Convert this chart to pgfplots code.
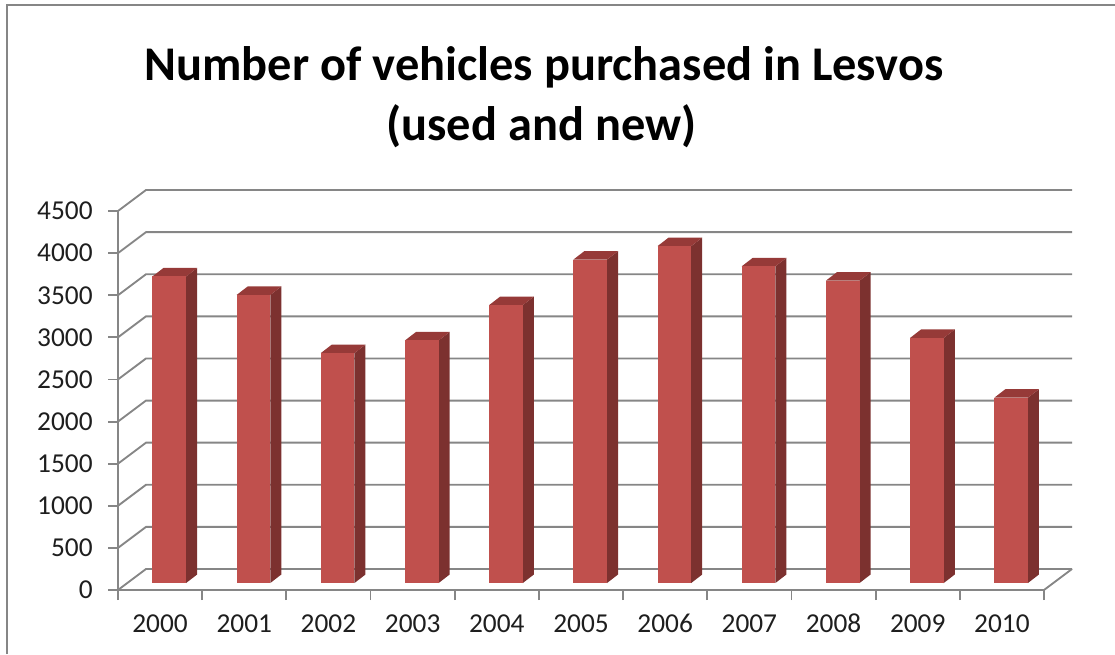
\documentclass[border=0pt]{standalone}
\usepackage{pgfplots}
\usepackage{pgfplotstable}
\pgfplotsset{compat=1.18}
\usepackage{fontspec}
\setmainfont{Carlito}

\definecolor{barfront}{RGB}{192,80,77}
\definecolor{barside}{RGB}{124,49,47}
\definecolor{bartop}{RGB}{150,58,56}
\definecolor{gridc}{RGB}{134,134,134}
\definecolor{labc}{RGB}{30,30,30}

% vehicles purchased per year
\pgfplotstableread{
year n
2000 3640
2001 3420
2002 2730
2003 2880
2004 3300
2005 3840
2006 4000
2007 3760
2008 3590
2009 2910
2010 2200
}\datatable

\begin{document}
\begin{tikzpicture}
\useasboundingbox (0,0) rectangle (836.25pt,-490.5pt);
% outer chart frame (cropped at right and bottom)
\draw[gridc, line width=1.5pt] (5.25pt,-490.5pt) -- (5.25pt,-3.75pt) -- (836.25pt,-3.75pt);

\node[font=\fontsize{36.3}{44}\selectfont\bfseries, anchor=base] at (408pt,-60pt)
  {Number of vehicles purchased in Lesvos};
\node[font=\fontsize{36.3}{44}\selectfont\bfseries, anchor=base] at (406pt,-105.5pt)
  {(used and new)};

\begin{axis}[
    at={(88.5pt,-442.5pt)}, anchor=south west,
    scale only axis,
    width=694.5pt, height=284.25pt,
    xmin=-0.5, xmax=10.5,
    ymin=0, ymax=4500,
    clip=false,
    axis x line*=bottom, axis y line*=left,
    axis line style={gridc, line width=1.4pt},
    xtick={-0.5,0.5,...,10.5},
    x tick label as interval,
    xticklabels={2000,2001,2002,2003,2004,2005,2006,2007,2008,2009,2010},
    ytick={0,500,...,4500},
    tick align=outside,
    major tick length=7.5pt,
    tick style={gridc, line width=1.4pt},
    /pgf/number format/assume math mode=true,
    /pgf/number format/set thousands separator={},
    tick label style={font=\fontsize{20.5}{24}\selectfont, text=labc},
    xticklabel style={text height=14pt, text depth=0pt, yshift=-7pt},
    yticklabel style={xshift=-8pt},
]
% 3D walls: side wall diagonals and back wall gridlines
\pgfplotsinvokeforeach{0,500,...,4500}{
  \draw[gridc, line width=1.4pt] (axis cs:-0.5,#1) -- (axis cs:-0.1674,#1+249.3)
      -- (axis cs:10.8326,#1+249.3);
}
\draw[gridc, line width=1.4pt] (axis cs:10.5,0) -- (axis cs:10.8326,249.3);

% bars: front, side and top faces
\pgfplotsinvokeforeach{0,...,10}{
  \pgfplotstablegetelem{#1}{n}\of\datatable
  \pgfmathsetmacro\yt{\pgfplotsretval+83}
  \pgfmathsetmacro\ytb{\pgfplotsretval+184}
  \pgfmathsetmacro\xl{#1+0.109-0.2}
  \pgfmathsetmacro\xr{#1+0.109+0.2}
  \pgfmathsetmacro\xlb{#1+0.109-0.2+0.131}
  \pgfmathsetmacro\xrb{#1+0.109+0.2+0.131}
  \edef\drawbar{
    \noexpand\addplot[fill=barside, draw=none]
      coordinates {(\xr,83) (\xrb,184) (\xrb,\ytb) (\xr,\yt)};
    \noexpand\addplot[fill=bartop, draw=none]
      coordinates {(\xl,\yt) (\xr,\yt) (\xrb,\ytb) (\xlb,\ytb)};
    \noexpand\addplot[fill=barfront, draw=none]
      coordinates {(\xl,83) (\xr,83) (\xr,\yt) (\xl,\yt)};
  }
  \drawbar
}
\end{axis}
\end{tikzpicture}
\end{document}
